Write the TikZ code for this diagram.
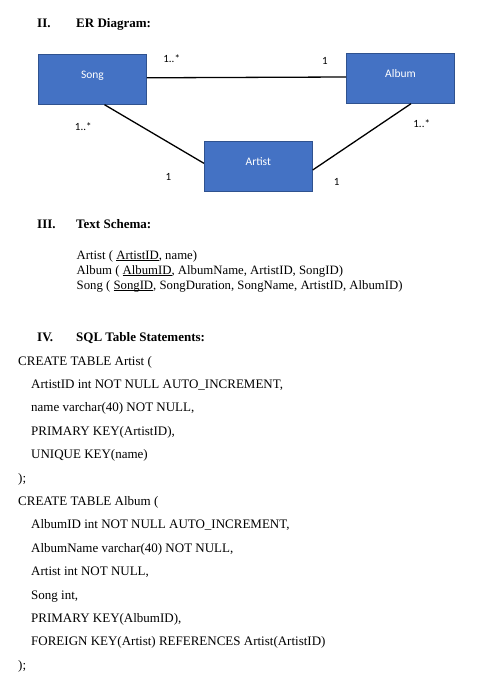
\documentclass[tikz,border=0pt]{standalone}
\usepackage{fontspec}
\setmainfont{Liberation Serif}
\newfontfamily\calib{Carlito}
\definecolor{boxfill}{HTML}{4472C4}
\definecolor{boxline}{HTML}{2F528F}
\newsavebox{\ulbox}
\newcommand{\keyul}[1]{\sbox{\ulbox}{#1}\rlap{\rule[-1.4pt]{\wd\ulbox}{0.6pt}}\usebox{\ulbox}}
\tikzset{
  entity/.style={draw=boxline, line width=0.8pt, fill=boxfill, text=white, inner sep=0pt,
    minimum width=108pt, text width=108pt, align=center, text height=24pt, text depth=26pt,
    font=\calib\fontsize{11.5}{13}\selectfont},
  rel/.style={line width=1.3pt, black},
  mult/.style={font=\calib\fontsize{11}{13}\selectfont, inner sep=0pt},
  head/.style={anchor=base west, inner sep=0pt, font=\bfseries\fontsize{13}{15}\selectfont},
  body/.style={anchor=base west, inner sep=0pt, font=\fontsize{13}{15}\selectfont},
  schema/.style={anchor=base west, inner sep=0pt, font=\fontsize{12.75}{15}\selectfont},
}
\begin{document}
\begin{tikzpicture}[x=1pt,y=-1pt]
\useasboundingbox (0,0) rectangle (490,676);
% headings
\node[head] (h2n) at (37,28) {II.};
\node[head] (h2) at (76,28) {ER Diagram:};
% ER diagram
\node[entity] (song) at (92.5,79.3) {Song};
\node[entity] (album) at (400.5,78.3) {Album};
\node[entity] (artist) at (258.3,166.3) {Artist};
\draw[rel] ([yshift=1.5pt]song.east) -- ([yshift=1.3pt]album.west);
\draw[rel] ([xshift=12pt]song.south) -- ([yshift=3pt]artist.west);
\draw[rel] ([xshift=10.5pt]album.south) -- ([yshift=-3.7pt]artist.east);
\node[mult] (m1) at (171.7,58.3) {1..*};
\node[mult] (m2) at (325,61) {1};
\node[mult] (m3) at (83.3,126.7) {1..*};
\node[mult] (m4) at (421.7,123.3) {1..*};
\node[mult] (m5) at (168.3,176.7) {1};
\node[mult] (m6) at (336.7,181.7) {1};
% text schema
\node[head] (h3n) at (37,228.5) {III.};
\node[head] (h3) at (76,228.5) {Text Schema:};
\node[schema] (s1) at (76.5,259.5) {Artist ( \keyul{ArtistID}, name)};
\node[schema] (s2) at (76.5,274.5) {Album ( \keyul{AlbumID}, AlbumName, ArtistID, SongID)};
\node[schema] (s3) at (76.5,289.5) {Song ( \keyul{SongID}, SongDuration, SongName, ArtistID, AlbumID)};
% SQL
\node[head] (h4n) at (37,341) {IV.};
\node[head] (h4) at (76,341) {SQL Table Statements:};
\node[body] (q1) at (18,365) {CREATE TABLE Artist (};
\node[body] (q2) at (31,388.4) {ArtistID int NOT NULL AUTO\_INCREMENT,};
\node[body] (q3) at (31,411.8) {name varchar(40) NOT NULL,};
\node[body] (q4) at (31,435.2) {PRIMARY KEY(ArtistID),};
\node[body] (q5) at (31,458.6) {UNIQUE KEY(name)};
\node[body] (q6) at (18,482) {);};
\node[body] (q7) at (18,505.4) {CREATE TABLE Album (};
\node[body] (q8) at (31,528.8) {AlbumID int NOT NULL AUTO\_INCREMENT,};
\node[body] (q9) at (31,552.2) {AlbumName varchar(40) NOT NULL,};
\node[body] (q10) at (31,575.6) {Artist int NOT NULL,};
\node[body] (q11) at (31,599) {Song int,};
\node[body] (q12) at (31,622.4) {PRIMARY KEY(AlbumID),};
\node[body] (q13) at (31,645.8) {FOREIGN KEY(Artist) REFERENCES Artist(ArtistID)};
\node[body] (q14) at (18,669.2) {);};
\end{tikzpicture}
\end{document}
